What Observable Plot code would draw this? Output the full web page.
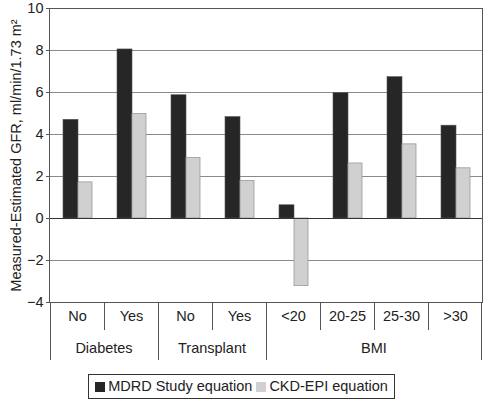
<!DOCTYPE html>
<html>
<head>
<meta charset="utf-8">
<script src="https://cdn.jsdelivr.net/npm/d3@7"></script>
<script src="https://cdn.jsdelivr.net/npm/@observablehq/plot@0.6"></script>
<style>
  body { margin: 0; background: #fff; font-family: "Liberation Sans", Arial, sans-serif; }
  #legend { display: flex; justify-content: center; margin-top: 8px; }
  #legend .box { border: 1px solid #333; padding: 3px 6px 4px 6px; font-size: 14.5px; color: #222; display: flex; align-items: center; gap: 4px; }
  #legend .sw { display: inline-block; width: 10px; height: 10px; margin-right: 3px; vertical-align: middle; }
</style>
</head>
<body>
<div id="chart"></div>
<script>
const groups = ["Diabetes", "Diabetes", "Transplant", "Transplant", "BMI", "BMI", "BMI", "BMI"];
const categories = ["No", "Yes", "No", "Yes", "<20", "20-25", "25-30", ">30"];
const seriesNames = ["MDRD Study equation", "CKD-EPI equation"];
const mdrd = [4.7, 8.05, 5.87, 4.83, 0.63, 5.97, 6.73, 4.42];
const ckdepi = [1.72, 4.98, 2.88, 1.79, -3.22, 2.62, 3.53, 2.39];
const yTicks = [-4, -2, 0, 2, 4, 6, 8, 10];
const yLabel = "Measured-Estimated GFR, ml/min/1.73 m²";

const keys = categories.map((c, i) => groups[i] + "|" + c);
const mdrdRows = keys.map((k, i) => ({key: k, value: mdrd[i]}));
const ckdRows = keys.map((k, i) => ({key: k, value: ckdepi[i]}));
const catLabel = new Map(keys.map((k, i) => [k, categories[i]]));

const FS = "14.5px";
const H = 366;
const plot = Plot.plot({
  width: 483,
  height: H,
  marginLeft: 49,
  marginRight: 1,
  marginTop: 8,
  marginBottom: 64,
  style: {fontSize: FS, fontFamily: "Liberation Sans, Arial, sans-serif", color: "#222", background: "#fff"},
  x: {domain: keys, padding: 0, axis: null},
  y: {domain: [-4, 10], axis: null},
  marks: [
    Plot.gridY(yTicks, {stroke: "#8a8a8a", strokeOpacity: 1}),
    Plot.barY(mdrdRows, {x: "key", y: "value", fill: "#262626", stroke: "#555", strokeWidth: 0.6, insetLeft: 13, insetRight: 26}),
    Plot.barY(ckdRows, {x: "key", y: "value", fill: "#d0d0d0", stroke: "#999", strokeWidth: 0.8, insetLeft: 28, insetRight: 12}),
    Plot.ruleY([0], {stroke: "#333"}),
    Plot.frame({stroke: "#555"}),
    Plot.axisY(yTicks, {tickSize: 3, tickPadding: 3, stroke: "#555", label: yLabel, labelAnchor: "center", labelArrow: "none", labelOffset: 39}),
    Plot.axisX({tickSize: 0, tickPadding: 8, tickFormat: (k) => catLabel.get(k), label: null})
  ]
});

// Separators and group labels positioned through Plot's own scales
const xs = plot.scale("x");
const ys = plot.scale("y");
const svg = d3.select(plot);
const y0 = ys.apply(-4);
const g = svg.append("g").attr("stroke", "#555").attr("stroke-width", 1);
keys.forEach((k, i) => {
  const isGroupStart = i === 0 || groups[i] !== groups[i - 1];
  const x = Math.round(xs.apply(k)) + 0.5;
  g.append("line").attr("x1", x).attr("x2", x).attr("y1", y0).attr("y2", y0 + (isGroupStart ? 58 : 28));
});
const lastKey = keys[keys.length - 1];
const xEnd = Math.round(xs.apply(lastKey) + xs.bandwidth) - 0.5;
g.append("line").attr("x1", xEnd).attr("x2", xEnd).attr("y1", y0).attr("y2", y0 + 58);

const uniqueGroups = [...new Set(groups)];
const tg = svg.append("g").attr("text-anchor", "middle").attr("fill", "#222")
  .attr("font-size", FS).attr("font-family", "Liberation Sans, Arial, sans-serif");
uniqueGroups.forEach(gr => {
  const ks = keys.filter((k, i) => groups[i] === gr);
  const x1 = xs.apply(ks[0]);
  const x2 = xs.apply(ks[ks.length - 1]) + xs.bandwidth;
  tg.append("text").attr("x", (x1 + x2) / 2).attr("y", y0 + 51).text(gr);
});

document.getElementById("chart").appendChild(plot);

const legend = document.createElement("div");
legend.id = "legend";
const colors = ["#262626", "#d0d0d0"];
legend.innerHTML = `<div class="box">` + seriesNames.map((s, i) =>
  `<span><span class="sw" style="background:${colors[i]}"></span>${s}</span>`).join("") + `</div>`;
document.getElementById("chart").appendChild(legend);
</script>
</body>
</html>
